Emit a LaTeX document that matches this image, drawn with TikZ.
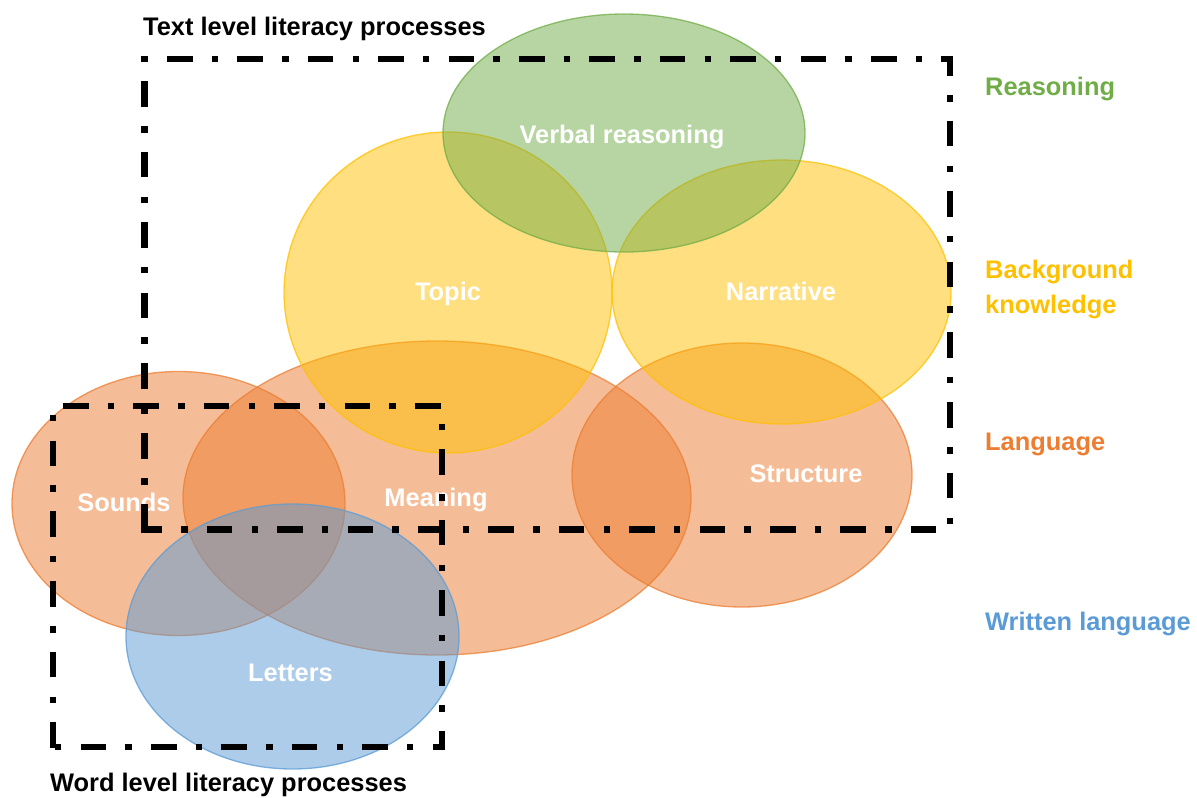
\documentclass[tikz,border=0pt]{standalone}
\usepackage{fontspec}
\setmainfont{Liberation Sans}
\usetikzlibrary{shapes.geometric}
\definecolor{cgreen}{RGB}{112,173,71}
\definecolor{cyellow}{RGB}{255,192,0}
\definecolor{corange}{RGB}{237,125,49}
\definecolor{cblue}{RGB}{91,155,213}
\begin{document}
\begin{tikzpicture}[x=1pt,y=-1pt,
  blob/.style={ellipse, inner sep=0pt, outer sep=0pt, fill=#1, fill opacity=0.5, draw=#1, draw opacity=0.75, line width=1.3pt},
  lab/.style={font=\fontsize{25.4}{30}\selectfont\bfseries, inner sep=0pt, anchor=base},
  inlab/.style={lab, text=white},
  side/.style={lab, anchor=base west, text=#1},
  frame/.style={line width=6.4pt, line join=miter, line cap=butt, dash pattern=on 6.4pt off 19.2pt on 25.6pt off 19.2pt}
]
\useasboundingbox (0,0) rectangle (1197,798);
\fill[white] (0,0) rectangle (1197,798);

% language (orange)
\node[blob=corange, minimum width=508pt, minimum height=314pt] (meaningE) at (437,498) {};
\node[blob=corange, minimum width=333pt, minimum height=264pt] (soundsE) at (178.5,503.5) {};
\node[blob=corange, minimum width=340pt, minimum height=264pt] (structureE) at (742,475) {};
% background knowledge (yellow)
\node[blob=cyellow, minimum width=328pt, minimum height=321pt] (topicE) at (448,292.5) {};
\node[blob=cyellow, minimum width=339pt, minimum height=264pt] (narrativeE) at (781.5,292) {};
% reasoning (green)
\node[blob=cgreen, minimum width=362pt, minimum height=238pt] (verbalE) at (624,133) {};
% written language (blue)
\node[blob=cblue, minimum width=333pt, minimum height=265pt] (lettersE) at (292.5,636.5) {};

% labels inside
\node[inlab] (verbalT) at (622,143) {Verbal reasoning};
\node[inlab] (topicT) at (448,300) {Topic};
\node[inlab] (narrativeT) at (781,300) {Narrative};
\node[inlab] (soundsT) at (124,511) {Sounds};
\node[inlab] (meaningT) at (436,506) {Meaning};
\node[inlab] (structureT) at (806,482) {Structure};
\node[inlab] (lettersT) at (290.5,681) {Letters};

% frames: text level
\draw[frame, dash phase=3.2pt] (144.5,59) -- (950,59) -- (950,529.5) -- (141.3,529.5);
\draw[frame, dash phase=0pt] (144.5,55.8) -- (144.5,529.5);
% frames: word level
\draw[frame, dash phase=15.7pt] (53,406) -- (442,406) -- (442,747) -- (49.8,747);
\draw[frame, dash phase=58.2pt] (53,402.8) -- (53,750.2);

% titles
\node[lab, anchor=base west] (textlevel) at (143,35) {Text level literacy processes};
\node[lab, anchor=base west] (wordlevel) at (50,791) {Word level literacy processes};

% legend
\node[side=cgreen] (reasoning) at (985,95) {Reasoning};
\node[side=cyellow] (bg1) at (985,278) {Background};
\node[side=cyellow] (bg2) at (985,313) {knowledge};
\node[side=corange] (language) at (985,450) {Language};
\node[side=cblue] (written) at (985,630) {Written language};
\end{tikzpicture}
\end{document}
